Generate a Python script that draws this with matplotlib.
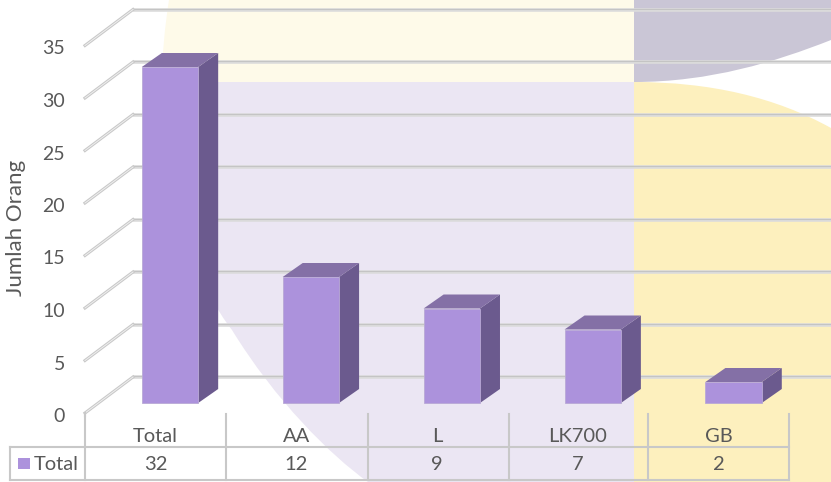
import matplotlib
matplotlib.use("Agg")
import matplotlib.pyplot as plt
from matplotlib.path import Path
from matplotlib.patches import PathPatch, Polygon, Rectangle

categories = ["Total", "AA", "L", "LK700", "GB"]
values = [32, 12, 9, 7, 2]
series_name = "Total"
y_ticks = [0, 5, 10, 15, 20, 25, 30, 35]
y_label = "Jumlah Orang"

plt.rcParams["font.family"] = ["Lato", "DejaVu Sans"]
TEXT = "#595959"
GRID = "#c8c8c8"
W, H = 831, 482

# pixel layout of the 3d box
X0, DX = 170, 140.9       # first bar centre, spacing
Y0, SY = 403, 10.5        # value 0 on the bar front, pixels per unit
BAR_W = 0.4
DEPTH_X, DEPTH_Y = 20 / DX, 14 / SY
FLOOR_FRONT = -10 / SY    # value 0 at the front edge of the floor
FLOOR_BACK = 26 / SY      # value 0 on the back wall


def px_x(p):
    return (p - X0) / DX


def curve(ax, verts, codes, color):
    ax.add_patch(PathPatch(Path(verts, codes), fc=color, ec="none", zorder=1))


fig = plt.figure(figsize=(W / 100, H / 100), dpi=100)

# background shapes, in pixels
bg = fig.add_axes([0, 0, 1, 1])
bg.set_xlim(0, W)
bg.set_ylim(H, 0)
bg.axis("off")
M, C, L, Z = Path.MOVETO, Path.CURVE4, Path.LINETO, Path.CLOSEPOLY
curve(bg, [(169, 0), (165, 25), (162, 55), (162, 82), (634, 82), (634, 0), (169, 0)],
      [M, C, C, C, L, L, Z], "#fefae9")
curve(bg, [(162, 82), (165, 200), (200, 290), (232, 330), (275, 400), (330, 455), (368, 482),
           (634, 482), (634, 82), (162, 82)],
      [M, C, C, C, C, C, C, L, L, Z], "#ebe6f3")
curve(bg, [(634, 0), (634, 82), (710, 82), (775, 62), (831, 40), (831, 0), (634, 0)],
      [M, L, C, C, C, L, Z], "#cac6d6")
curve(bg, [(634, 82), (710, 82), (775, 97), (831, 128), (831, 482), (634, 482), (634, 82)],
      [M, C, C, C, L, L, Z], "#fdf0be")

# table lines
for x in [85, 226, 368, 509, 648, 789]:
    bg.plot([x, x], [414, 480], color=GRID, lw=1.5, zorder=2)
bg.plot([10, 10], [447, 480], color=GRID, lw=1.5, zorder=2)
bg.plot([10, 789], [447, 447], color=GRID, lw=1.5, zorder=2)
bg.plot([10, 789], [480, 480], color=GRID, lw=1.5, zorder=2)

# value axes on top of the background
ax = fig.add_axes([0, 0, 1, 1])
ax.patch.set_alpha(0)
ax.set_xlim(px_x(0), px_x(W))
ax.set_ylim((Y0 - H) / SY, Y0 / SY)
ax.axis("off")

for v in y_ticks:
    back = v + FLOOR_BACK
    front = v + FLOOR_FRONT
    ax.plot([px_x(133), px_x(W)], [back, back], color="#dcdcdc", lw=2.6, zorder=2,
            solid_capstyle="butt")
    ax.plot([px_x(133), px_x(W)], [back + 0.07, back + 0.07], color="#c4c4c4", lw=0.8, zorder=2)
    ax.plot([px_x(85), px_x(133)], [front, back], color="#c8c8c8", lw=2.2, zorder=2)
    ax.plot([px_x(85), px_x(133)], [front, back], color="#efefef", lw=0.7, zorder=2)
    ax.text(px_x(65), front - 3.5 / SY, str(v), ha="right", va="center", fontsize=14, color=TEXT)
ax.plot([px_x(85), px_x(85)], [FLOOR_FRONT, FLOOR_FRONT - 3 / SY], color=GRID, lw=1.5, zorder=2)

# bars: front face through ax.bar, side and top built from the same values
xs = list(range(len(values)))
ax.bar(xs, values, width=BAR_W, color="#ac92dc", edgecolor="#b9a9d6", linewidth=0.6, zorder=4)
for x, v in zip(xs, values):
    r = x + BAR_W / 2
    l = x - BAR_W / 2
    ax.add_patch(Polygon([(r, 0), (r + DEPTH_X, DEPTH_Y), (r + DEPTH_X, v + DEPTH_Y), (r, v)],
                         fc="#6b5a8e", ec="none", zorder=3))
    ax.add_patch(Polygon([(l, v), (l + DEPTH_X, v + DEPTH_Y), (r + DEPTH_X, v + DEPTH_Y), (r, v)],
                         fc="#8470a6", ec="none", zorder=3))

ax.text(px_x(16), (Y0 - 228) / SY, y_label, rotation=90, ha="center", va="center",
        fontsize=16, color=TEXT)

# data table text
for i, (c, v) in enumerate(zip(categories, values)):
    x = px_x(85 + 140.8 * (i + 0.5))
    ax.text(x, (Y0 - 436) / SY, c, ha="center", va="center", fontsize=14.5, color=TEXT)
    ax.text(x, (Y0 - 464) / SY, str(v), ha="center", va="center", fontsize=14.5, color=TEXT)
bg.add_patch(Rectangle((18, 458), 12, 11, fc="#ac92dc", ec="none", zorder=3))
bg.text(34, 464, series_name, ha="left", va="center", fontsize=14.5, color=TEXT)

fig.savefig("out.png", dpi=100)
